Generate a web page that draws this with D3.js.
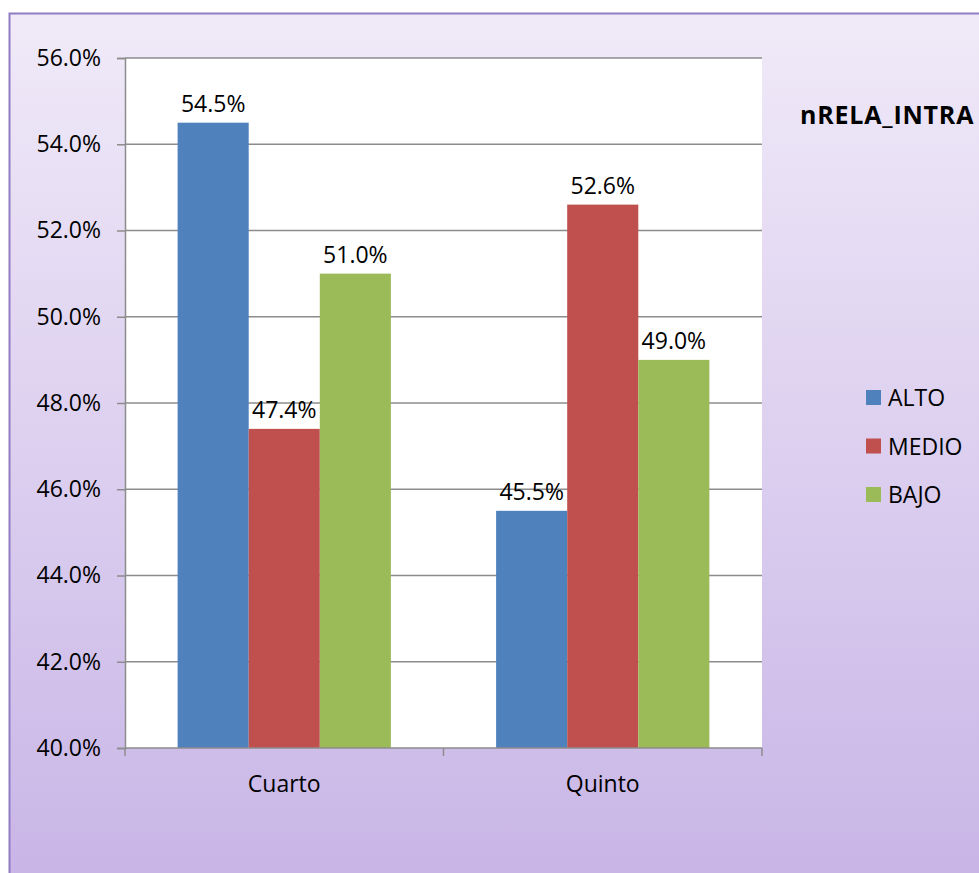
<!DOCTYPE html>
<html>
<head>
<meta charset="utf-8">
<script src="https://cdn.jsdelivr.net/npm/d3@7"></script>
<style>
  body { margin: 0; background: #fff; }
  text { font-family: "Open Sans", "Liberation Sans", sans-serif; fill: #000; }
</style>
</head>
<body>
<svg width="979" height="873"></svg>
<script>
const categories = ['Cuarto', 'Quinto'];
const seriesNames = ['ALTO', 'MEDIO', 'BAJO'];
const seriesColors = ['#4f81bd', '#c0504d', '#9bbb59'];
const alto = [54.5, 45.5];
const medio = [47.4, 52.6];
const bajo = [51.0, 49.0];
const yTicks = [40, 42, 44, 46, 48, 50, 52, 54, 56];
const title = 'nRELA_INTRA';

const svg = d3.select('svg');

// background gradient frame
const defs = svg.append('defs');
const grad = defs.append('linearGradient')
    .attr('id', 'bg').attr('x1', 0).attr('y1', 0).attr('x2', 0).attr('y2', 1);
grad.append('stop').attr('offset', '0%').attr('stop-color', '#f0eaf8');
grad.append('stop').attr('offset', '100%').attr('stop-color', '#c7b3e6');

svg.append('rect')
    .attr('x', 9.5).attr('y', 13.5)
    .attr('width', 1000).attr('height', 900)
    .attr('fill', 'url(#bg)')
    .attr('stroke', '#8f7cc2')
    .attr('stroke-width', 2);

const margin = {left: 125, top: 58, right: 762, bottom: 748};
const fontSize = 23;

const x0 = d3.scaleBand()
    .domain(categories)
    .range([margin.left, margin.right]);

const x1 = d3.scaleBand()
    .domain(seriesNames)
    .range([0, x0.bandwidth()])
    .paddingOuter(0.74)
    .paddingInner(0);

const y = d3.scaleLinear()
    .domain([40, 56])
    .range([margin.bottom, margin.top]);

// plot area
svg.append('rect')
    .attr('x', margin.left).attr('y', margin.top)
    .attr('width', margin.right - margin.left)
    .attr('height', margin.bottom - margin.top)
    .attr('fill', '#fff');

// gridlines
svg.append('g')
    .selectAll('line')
    .data(yTicks.slice(1))
    .join('line')
    .attr('x1', margin.left).attr('x2', margin.right)
    .attr('y1', d => y(d)).attr('y2', d => y(d))
    .attr('stroke', '#8c8c8c')
    .attr('stroke-width', 1.3);

// bars
const data = categories.map((c, i) => ({
    cat: c,
    vals: [alto[i], medio[i], bajo[i]]
}));

const groups = svg.append('g')
    .selectAll('g')
    .data(data)
    .join('g')
    .attr('transform', d => `translate(${x0(d.cat)},0)`);

groups.selectAll('rect')
    .data(d => d.vals.map((v, j) => ({name: seriesNames[j], v, j})))
    .join('rect')
    .attr('x', d => x1(d.name))
    .attr('width', x1.bandwidth())
    .attr('y', d => y(d.v))
    .attr('height', d => y(40) - y(d.v))
    .attr('fill', d => seriesColors[d.j]);

groups.selectAll('text')
    .data(d => d.vals.map((v, j) => ({name: seriesNames[j], v, j})))
    .join('text')
    .attr('x', d => x1(d.name) + x1.bandwidth() / 2)
    .attr('y', d => y(d.v) - 11)
    .attr('text-anchor', 'middle')
    .attr('font-size', fontSize)
    .text(d => d.v.toFixed(1) + '%');

// y axis
const yAxis = svg.append('g')
    .attr('transform', `translate(${margin.left},0)`)
    .call(d3.axisLeft(y).tickValues(yTicks).tickSize(8).tickPadding(16)
        .tickFormat(d => d.toFixed(1) + '%'));
yAxis.select('.domain').attr('stroke', '#8c8c8c').attr('stroke-width', 1.5);
yAxis.selectAll('.tick line').attr('stroke', '#8c8c8c').attr('stroke-width', 1.5);
yAxis.selectAll('.tick text').attr('font-size', fontSize)
    .attr('font-family', '"Open Sans", "Liberation Sans", sans-serif');

// x axis
const xAxis = svg.append('g')
    .attr('transform', `translate(0,${margin.bottom})`);
xAxis.append('line')
    .attr('x1', margin.left).attr('x2', margin.right)
    .attr('stroke', '#8c8c8c').attr('stroke-width', 1.5);
xAxis.selectAll('line.tk')
    .data([margin.left, ...categories.map(c => x0(c) + x0.bandwidth())])
    .join('line')
    .attr('class', 'tk')
    .attr('x1', d => d).attr('x2', d => d)
    .attr('y1', 0).attr('y2', 8)
    .attr('stroke', '#8c8c8c').attr('stroke-width', 1.5);
xAxis.selectAll('text')
    .data(categories)
    .join('text')
    .attr('x', d => x0(d) + x0.bandwidth() / 2)
    .attr('y', 44)
    .attr('text-anchor', 'middle')
    .attr('font-size', fontSize)
    .text(d => d);

// title
svg.append('text')
    .attr('x', 800).attr('y', 124)
    .attr('font-size', 25)
    .attr('font-weight', 'bold')
    .attr('letter-spacing', 0.8)
    .text(title);

// legend
const legend = svg.append('g')
    .selectAll('g')
    .data(seriesNames)
    .join('g')
    .attr('transform', (d, i) => `translate(866,${390 + i * 48.5})`);
legend.append('rect')
    .attr('width', 15).attr('height', 15)
    .attr('fill', (d, i) => seriesColors[i]);
legend.append('text')
    .attr('x', 22).attr('y', 16)
    .attr('font-size', fontSize)
    .text(d => d);
</script>
</body>
</html>
